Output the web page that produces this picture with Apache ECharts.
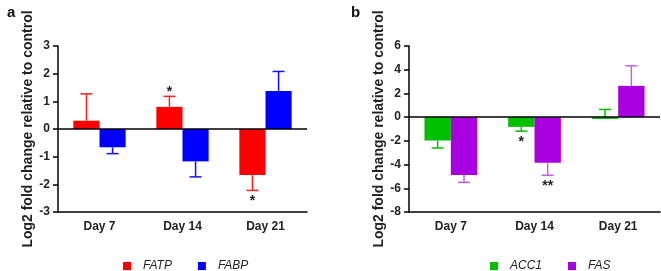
<!DOCTYPE html>
<html>
<head>
<meta charset="utf-8">
<script src="https://cdn.jsdelivr.net/npm/echarts@6/dist/echarts.min.js"></script>
<style>
  html, body { margin: 0; padding: 0; background: #fff; }
  #chart { width: 661px; height: 271px; }
</style>
</head>
<body>
<div id="chart"></div>
<script>
const days = ["Day 7", "Day 14", "Day 21"];

// panel a
const fatp = [0.3, 0.8, -1.66];
const fatpErr = [1.27, 1.18, -2.22];
const fatpStars = ["", "*", "*"];
const fabp = [-0.66, -1.17, 1.37];
const fabpErr = [-0.89, -1.73, 2.08];
const fabpStars = ["", "", ""];

// panel b
const acc1 = [-1.97, -0.82, -0.15];
const acc1Err = [-2.6, -1.18, 0.65];
const acc1Stars = ["", "*", ""];
const fas = [-4.87, -3.85, 2.64];
const fasErr = [-5.5, -4.9, 4.33];
const fasStars = ["", "**", ""];

const yName = "Log2 fold change relative to control";
const catGap = 0.37;

let chart = echarts.init(document.getElementById("chart"));

function errSeries(name, grid, vals, errs, stars, side, color) {
    return {
        type: "custom",
        name: name,
        xAxisIndex: grid,
        yAxisIndex: grid,
        silent: true,
        z: 3,
        data: vals.map((v, i) => [i, v, errs[i]]),
        renderItem: function (params, api) {
            let band = api.size([1, 0])[0];
            let bw = band * (1 - catGap) / 2;
            let start = api.coord([api.value(0), api.value(1)]);
            let end = api.coord([api.value(0), api.value(2)]);
            let x = start[0] + side * bw / 2;
            let children = [
                {
                    type: "line",
                    shape: { x1: x, y1: start[1], x2: x, y2: end[1] },
                    style: { stroke: color, lineWidth: 1.5 },
                },
                {
                    type: "line",
                    shape: { x1: x - 6, y1: end[1], x2: x + 6, y2: end[1] },
                    style: { stroke: color, lineWidth: 1.5 },
                },
            ];
            let s = stars[params.dataIndex];
            if (s) {
                let up = api.value(2) > api.value(1);
                children.push({
                    type: "text",
                    style: {
                        text: s,
                        x: x,
                        y: up ? end[1] - 4 : end[1] + 11,
                        align: "center",
                        verticalAlign: "middle",
                        fill: "#222",
                        font: "bold 14px 'Liberation Sans', Arial, sans-serif",
                    },
                });
            }
            return { type: "group", children: children };
        },
    };
}

function barSeries(name, grid, vals, color, zero) {
    let s = {
        type: "bar",
        name: name,
        xAxisIndex: grid,
        yAxisIndex: grid,
        data: vals,
        barGap: "0%",
        barCategoryGap: catGap * 100 + "%",
        itemStyle: { color: color },
        silent: true,
    };
    if (zero) {
        s.markLine = {
            silent: true,
            symbol: ["none", "none"],
            label: { show: false },
            lineStyle: { color: "#000", width: 1.5, type: "solid" },
            data: [{ yAxis: 0 }],
        };
    }
    return s;
}

const font = "'Liberation Sans', Arial, sans-serif";

function xAxis(grid) {
    return {
        type: "category",
        gridIndex: grid,
        data: days,
        axisLine: { onZero: false, lineStyle: { color: "#000", width: 1.5 } },
        axisTick: { alignWithLabel: true, length: 4, lineStyle: { color: "#000", width: 1.5 } },
        axisLabel: { color: "#222", fontWeight: "bold", fontSize: 12, fontFamily: font, margin: 9 },
    };
}

function yAxis(grid, min, max, step) {
    return {
        type: "value",
        gridIndex: grid,
        min: min,
        max: max,
        interval: step,
        name: yName,
        nameLocation: "middle",
        nameRotate: 90,
        nameGap: 23,
        nameTextStyle: { color: "#222", fontWeight: "bold", fontSize: 14, fontFamily: font },
        axisLine: { show: true, lineStyle: { color: "#000", width: 1.5 } },
        axisTick: { show: true, length: 5, lineStyle: { color: "#000", width: 1.5 } },
        axisLabel: { color: "#222", fontWeight: "bold", fontSize: 12, fontFamily: font, margin: 8 },
        splitLine: { show: false },
    };
}

function legend(left, names) {
    return {
        left: left,
        top: 255,
        icon: "rect",
        itemWidth: 8,
        itemHeight: 8,
        itemGap: 26,
        data: names,
        selectedMode: false,
        textStyle: {
            color: "#222",
            fontStyle: "italic",
            fontSize: 12,
            fontFamily: font,
            padding: [0, 0, 0, 7],
        },
    };
}

chart.setOption({
    animation: false,
    color: ["#FF0000", "#0000FF", "#00C000", "#A800E0"],
    title: [
        { text: "a", left: 2, top: 0, textStyle: { fontSize: 15, fontWeight: "bold", color: "#111", fontFamily: font } },
        { text: "b", left: 346, top: 0, textStyle: { fontSize: 15, fontWeight: "bold", color: "#111", fontFamily: font } },
    ],
    grid: [
        { left: 58, top: 46, width: 249, height: 166 },
        { left: 409, top: 46, width: 251, height: 166 },
    ],
    xAxis: [xAxis(0), xAxis(1)],
    yAxis: [yAxis(0, -3, 3, 1), yAxis(1, -8, 6, 2)],
    legend: [legend(118, ["FATP", "FABP"]), legend(485, ["ACC1", "FAS"])],
    series: [
        barSeries("FATP", 0, fatp, "#FF0000", true),
        barSeries("FABP", 0, fabp, "#0000FF", false),
        barSeries("ACC1", 1, acc1, "#00C000", true),
        barSeries("FAS", 1, fas, "#A800E0", false),
        errSeries("FATP err", 0, fatp, fatpErr, fatpStars, -1, "#FF2020"),
        errSeries("FABP err", 0, fabp, fabpErr, fabpStars, 1, "#1010FF"),
        errSeries("ACC1 err", 1, acc1, acc1Err, acc1Stars, -1, "#00C000"),
        errSeries("FAS err", 1, fas, fasErr, fasStars, 1, "#C060F0"),
    ],
});
</script>
</body>
</html>
